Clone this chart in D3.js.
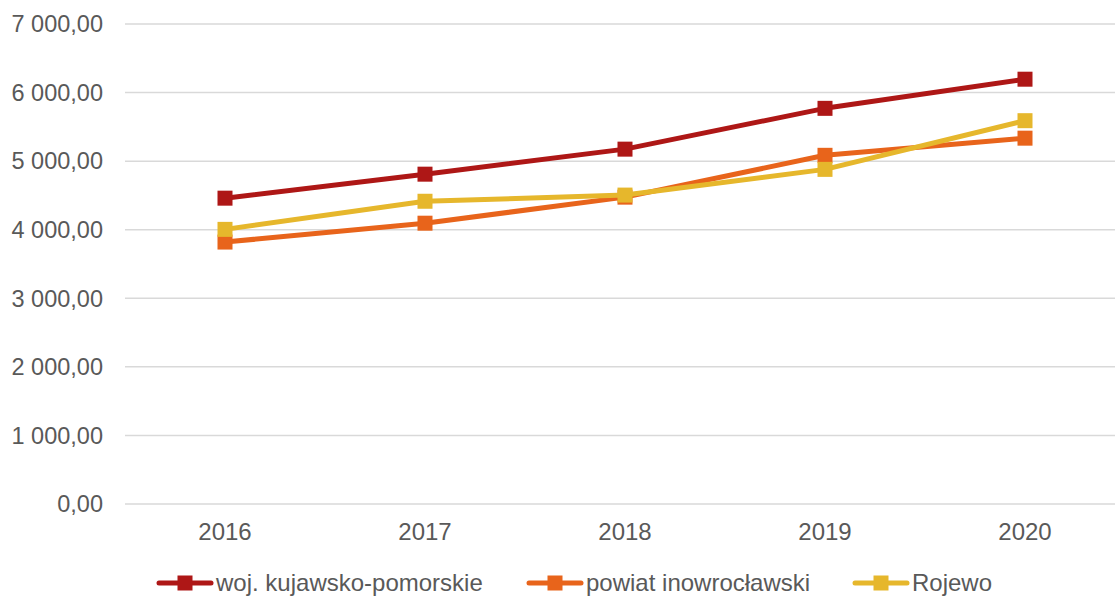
<!DOCTYPE html>
<html>
<head>
<meta charset="utf-8">
<script src="https://cdn.jsdelivr.net/npm/d3@7"></script>
<style>
  body { margin: 0; background: #fff; }
  text { font-family: "Liberation Sans", Arial, sans-serif; fill: #595959; }
</style>
</head>
<body>
<div class="chart"></div>
<script>
var years = ["2016", "2017", "2018", "2019", "2020"];
var seriesNames = ["woj. kujawsko-pomorskie", "powiat inowrocławski", "Rojewo"];
var seriesColors = ["#AE1716", "#E8641B", "#E6B72C"];
var wojValues = [4460, 4810, 5175, 5770, 6195];
var powiatValues = [3820, 4095, 4475, 5085, 5335];
var rojewoValues = [4005, 4415, 4505, 4880, 5590];
var yTicks = [0, 1000, 2000, 3000, 4000, 5000, 6000, 7000];

var outerW = 1115, outerH = 596;
var margin = {top: 24, right: -10, bottom: 92, left: 125};
var width = outerW - margin.left - margin.right,
	height = outerH - margin.top - margin.bottom;

var svg = d3.select(".chart")
	.append("svg")
	.attr("width", outerW)
	.attr("height", outerH)
	.append("g")
	.attr("transform", "translate(" + margin.left + "," + margin.top + ")");

var x = d3.scalePoint()
	.domain(years)
	.range([0, width])
	.padding(0.5);

var y = d3.scaleLinear()
	.domain([0, 7000])
	.range([height, 0]);

var fmt = function(v) {
	var s = d3.format(",.2f")(v);
	return s.replace(/,/g, " ").replace(".", ",");
};

// gridlines
svg.append("g")
	.selectAll("line")
	.data(yTicks)
	.join("line")
	.attr("x1", 0)
	.attr("x2", width)
	.attr("y1", d => y(d))
	.attr("y2", d => y(d))
	.attr("stroke", "#d9d9d9")
	.attr("stroke-width", 1.5);

// y labels
svg.append("g")
	.selectAll("text")
	.data(yTicks)
	.join("text")
	.attr("x", -22)
	.attr("y", d => y(d))
	.attr("dy", "0.35em")
	.attr("text-anchor", "end")
	.style("font-size", "23.5px")
	.text(d => fmt(d));

// x labels
svg.append("g")
	.selectAll("text")
	.data(years)
	.join("text")
	.attr("x", d => x(d))
	.attr("y", height + 28)
	.attr("dy", "0.35em")
	.attr("text-anchor", "middle")
	.style("font-size", "24px")
	.text(d => d);

var allSeries = [wojValues, powiatValues, rojewoValues];

var line = d3.line()
	.x((d, i) => x(years[i]))
	.y(d => y(d));

allSeries.forEach(function(vals, k) {
	svg.append("path")
		.datum(vals)
		.attr("d", line)
		.attr("fill", "none")
		.attr("stroke", seriesColors[k])
		.attr("stroke-width", 5)
		.attr("stroke-linejoin", "round");
	svg.append("g")
		.selectAll("rect")
		.data(vals)
		.join("rect")
		.attr("x", (d, i) => x(years[i]) - 7.5)
		.attr("y", d => y(d) - 7.5)
		.attr("width", 15)
		.attr("height", 15)
		.attr("fill", seriesColors[k]);
});

// legend
var legendX = [157, 527, 853];
var legend = d3.select("svg").append("g");
seriesNames.forEach(function(name, k) {
	var g = legend.append("g").attr("transform", "translate(" + legendX[k] + ",583)");
	g.append("line")
		.attr("x1", 2).attr("x2", 54)
		.attr("stroke", seriesColors[k])
		.attr("stroke-width", 5)
		.attr("stroke-linecap", "round");
	g.append("rect")
		.attr("x", 20.5).attr("y", -7.5)
		.attr("width", 15).attr("height", 15)
		.attr("fill", seriesColors[k]);
	g.append("text")
		.attr("x", 59)
		.attr("dy", "0.35em")
		.style("font-size", "24px")
		.text(name);
});
</script>
</body>
</html>
